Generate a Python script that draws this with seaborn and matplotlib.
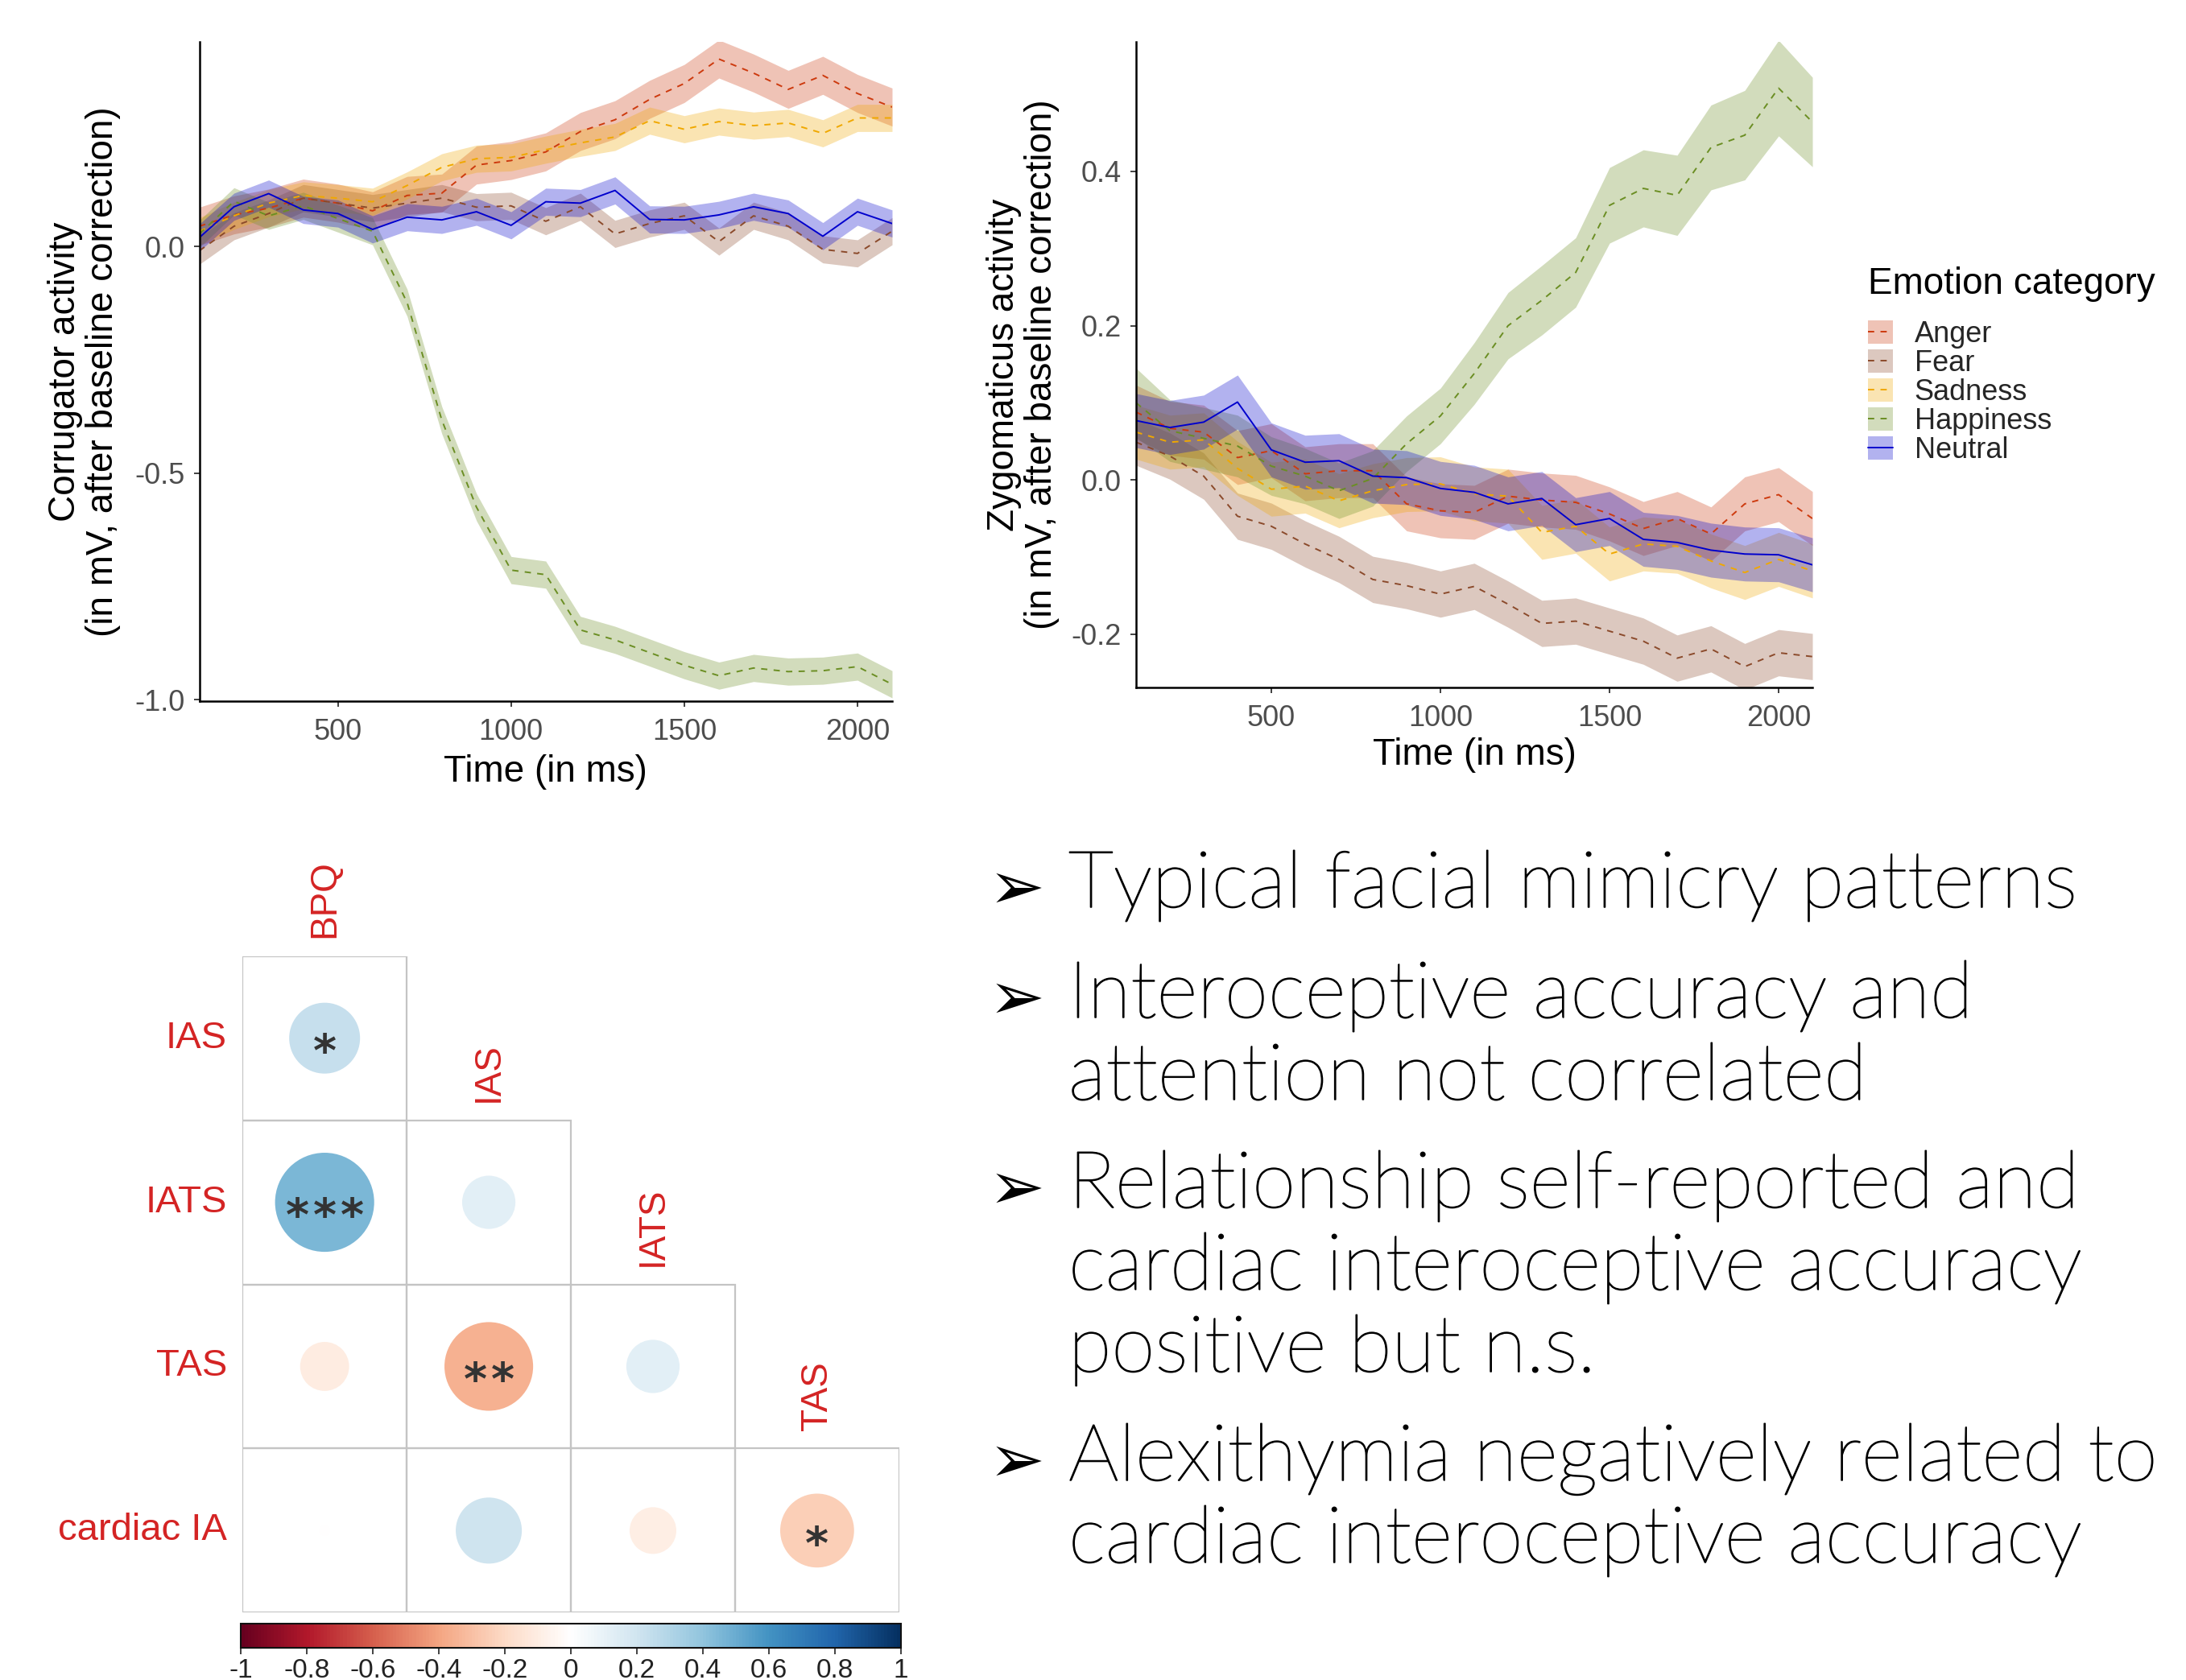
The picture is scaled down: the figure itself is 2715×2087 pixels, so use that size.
import numpy as np
import pandas as pd
import matplotlib
matplotlib.use("Agg")
import matplotlib.pyplot as plt
import matplotlib.patheffects as pe
import seaborn as sns
from matplotlib.patches import Patch, Circle, Rectangle
from matplotlib.lines import Line2D
from matplotlib.colors import LinearSegmentedColormap, ListedColormap, Normalize
import matplotlib.colorbar as mcolorbar

# ---------------------------------------------------------------- data
time_ms = [100, 200, 300, 400, 500, 600, 700, 800, 900, 1000, 1100,
           1200, 1300, 1400, 1500, 1600, 1700, 1800, 1900, 2000, 2100]
emotions = ["Anger", "Fear", "Sadness", "Happiness", "Neutral"]

# corrugator activity (mean, mV after baseline correction)
corr_anger = [0.045, 0.070, 0.085, 0.107, 0.096, 0.079, 0.113, 0.118, 0.180, 0.190, 0.209,
              0.254, 0.280, 0.325, 0.360, 0.414, 0.383, 0.347, 0.378, 0.338, 0.308]
corr_fear = [-0.009, 0.045, 0.073, 0.107, 0.096, 0.085, 0.096, 0.107, 0.087, 0.090, 0.056,
             0.088, 0.028, 0.051, 0.068, 0.011, 0.068, 0.045, -0.006, -0.015, 0.034]
corr_sadness = [0.034, 0.068, 0.096, 0.113, 0.107, 0.099, 0.135, 0.175, 0.194, 0.197, 0.214,
                0.229, 0.242, 0.278, 0.259, 0.276, 0.267, 0.273, 0.250, 0.284, 0.284]
corr_happiness = [0.028, 0.100, 0.068, 0.090, 0.062, 0.034, -0.124, -0.383, -0.575, -0.714, -0.724,
                  -0.846, -0.868, -0.896, -0.924, -0.947, -0.930, -0.938, -0.936, -0.927, -0.966]
corr_neutral = [0.020, 0.088, 0.117, 0.081, 0.073, 0.038, 0.065, 0.059, 0.077, 0.047, 0.099,
                0.096, 0.124, 0.060, 0.059, 0.070, 0.088, 0.073, 0.023, 0.077, 0.051]
corr_se = {"Anger": 0.042, "Fear": 0.030, "Sadness": 0.030, "Happiness": 0.030, "Neutral": 0.030}

# zygomaticus activity
zyg_anger = [0.088, 0.067, 0.062, 0.029, 0.038, 0.008, 0.012, 0.012, -0.031, -0.040, -0.042,
             -0.021, -0.026, -0.029, -0.044, -0.063, -0.050, -0.070, -0.031, -0.019, -0.050]
zyg_fear = [0.049, 0.031, 0.005, -0.047, -0.060, -0.083, -0.103, -0.129, -0.137, -0.148, -0.138,
            -0.161, -0.186, -0.183, -0.196, -0.209, -0.231, -0.219, -0.242, -0.224, -0.229]
zyg_sadness = [0.062, 0.049, 0.052, 0.015, -0.012, -0.008, -0.027, -0.014, -0.006, -0.005, -0.018,
               -0.021, -0.068, -0.060, -0.096, -0.083, -0.086, -0.105, -0.120, -0.103, -0.118]
zyg_happiness = [0.100, 0.064, 0.054, 0.044, 0.018, 0.005, -0.014, 0.002, 0.047, 0.083, 0.138,
                 0.200, 0.233, 0.269, 0.356, 0.378, 0.369, 0.431, 0.447, 0.508, 0.464]
zyg_neutral = [0.077, 0.068, 0.075, 0.101, 0.039, 0.023, 0.025, 0.005, 0.003, -0.011, -0.016,
               -0.031, -0.024, -0.058, -0.050, -0.077, -0.081, -0.091, -0.096, -0.097, -0.110]
zyg_se_happiness = [0.045, 0.040, 0.040, 0.040, 0.038, 0.036, 0.036, 0.036, 0.036, 0.036, 0.040,
                    0.043, 0.045, 0.045, 0.049, 0.050, 0.052, 0.055, 0.058, 0.062, 0.058]
zyg_se = {"Anger": 0.035, "Fear": 0.030, "Sadness": 0.035, "Happiness": zyg_se_happiness,
          "Neutral": 0.035}

# questionnaire correlations (lower triangle)
row_vars = ["IAS", "IATS", "TAS", "cardiac IA"]
col_vars = ["BPQ", "IAS", "IATS", "TAS"]
corr_r = [[0.23, np.nan, np.nan, np.nan],
          [0.45, 0.13, np.nan, np.nan],
          [-0.11, -0.36, 0.13, np.nan],
          [-0.005, 0.20, -0.10, -0.25]]
corr_stars = [[1, 0, 0, 0],
              [3, 0, 0, 0],
              [0, 2, 0, 0],
              [0, 0, 0, 1]]
cbar_ticks = [-1, -0.8, -0.6, -0.4, -0.2, 0, 0.2, 0.4, 0.6, 0.8, 1]

bullets = [
    ["Typical facial mimicry patterns"],
    ["Interoceptive accuracy and", "attention not correlated"],
    ["Relationship self-reported and", "cardiac interoceptive accuracy", "positive but n.s."],
    ["Alexithymia negatively related to", "cardiac interoceptive accuracy"],
]

# ---------------------------------------------------------------- style
line_colors = {"Anger": "#CD3A0E", "Fear": "#8B4A2B", "Sadness": "#F0A800",
               "Happiness": "#6B8E23", "Neutral": "#0000CD"}
dash_map = {"Anger": (4, 4), "Fear": (4, 4), "Sadness": (4, 4), "Happiness": (4, 4), "Neutral": ""}

sns.set_theme(style="white")
plt.rcParams["font.family"] = ["Liberation Sans", "DejaVu Sans"]
plt.rcParams["axes.unicode_minus"] = False

W, H = 2715, 2087
fig = plt.figure(figsize=(W / 100, H / 100), dpi=100)
fig.patch.set_facecolor("white")


def band_frame(means, se):
    rows = []
    for emo in emotions:
        s = se[emo]
        s = s if isinstance(s, list) else [s] * len(time_ms)
        for t, m, e in zip(time_ms, means[emo], s):
            rows.append((t, emo, m - e))
            rows.append((t, emo, m + e))
    return pd.DataFrame(rows, columns=["time", "emotion", "value"])


def draw_panel(ax, df, ylim, yticks, ylabel, xlab_y):
    sns.lineplot(data=df, x="time", y="value", hue="emotion", style="emotion",
                 hue_order=emotions, style_order=emotions, palette=line_colors,
                 dashes=dash_map, estimator="mean", errorbar=("pi", 100),
                 err_kws={"alpha": 0.3, "linewidth": 0}, linewidth=1.4,
                 legend=False, ax=ax)
    ax.set_xlim(100, 2100)
    ax.set_ylim(*ylim)
    ax.set_xticks([500, 1000, 1500, 2000])
    ax.set_yticks(yticks)
    ax.set_yticklabels([f"{v:.1f}" for v in yticks])
    sns.despine(ax=ax)
    for side in ("left", "bottom"):
        ax.spines[side].set_linewidth(1.8)
        ax.spines[side].set_color("black")
    ax.tick_params(axis="both", which="major", labelsize=26, labelcolor="#4D4D4D",
                   length=5, width=1.3, color="#333333", bottom=True, left=True)
    ax.tick_params(axis="x", pad=10)
    ax.tick_params(axis="y", pad=8)
    ax.set_xlabel("Time (in ms)", fontsize=33, color="black")
    ax.set_ylabel(ylabel, fontsize=33, color="black", linespacing=1.1)
    ax.yaxis.set_label_coords(-0.113, 0.5)
    ax.xaxis.set_label_coords(0.5, xlab_y)
    ax.set_facecolor("white")


corr_means = {"Anger": corr_anger, "Fear": corr_fear, "Sadness": corr_sadness,
              "Happiness": corr_happiness, "Neutral": corr_neutral}
zyg_means = {"Anger": zyg_anger, "Fear": zyg_fear, "Sadness": zyg_sadness,
             "Happiness": zyg_happiness, "Neutral": zyg_neutral}

ax1 = fig.add_axes([0.0912, 0.5827, 0.3169, 0.3924])
draw_panel(ax1, band_frame(corr_means, corr_se), (-1.003, 0.452), [-1.0, -0.5, 0.0],
           "Corrugator activity\n(in mV, after baseline correction)", -0.0806)

ax2 = fig.add_axes([0.5197, 0.5908, 0.3094, 0.3843])
draw_panel(ax2, band_frame(zyg_means, zyg_se), (-0.269, 0.568), [-0.2, 0.0, 0.2, 0.4],
           "Zygomaticus activity\n(in mV, after baseline correction)", -0.0773)

# legend: translucent band key with the line drawn over it
handles = []
for emo in emotions:
    c = line_colors[emo]
    ls = "-" if emo == "Neutral" else (0, (4, 4))
    handles.append((Patch(facecolor=c, alpha=0.3, edgecolor="none"),
                    Line2D([], [], color=c, linestyle=ls, linewidth=1.4)))
fig.text(2320 / W, 1 - 353 / H, "Emotion category", fontsize=33, va="center", ha="left",
         color="black")
fig.legend(handles, emotions, loc="upper left", bbox_to_anchor=(2320 / W, 1 - 398 / H),
           frameon=False, fontsize=26, handlelength=0.85, handleheight=0.85,
           labelspacing=0.03, handletextpad=0.75, borderpad=0, borderaxespad=0)

# ---------------------------------------------------------------- correlation matrix
col2 = ["#67001F", "#B2182B", "#D6604D", "#F4A582", "#FDDBC7", "#FFFFFF",
        "#D1E5F0", "#92C5DE", "#4393C3", "#2166AC", "#053061"]
rdbu = LinearSegmentedColormap.from_list("corr_rdbu", col2, N=200)
norm = Normalize(-1, 1)
label_red = "#D42424"

rmat = np.array(corr_r, dtype=float)
mask = np.isnan(rmat)
axc = fig.add_axes([0.1103, 0.0401, 0.3017, 0.3908])
sns.heatmap(np.zeros_like(rmat), mask=mask, cmap=ListedColormap(["white"]), cbar=False,
            linewidths=0, square=True, ax=axc, xticklabels=False, yticklabels=row_vars)
axc.tick_params(axis="y", length=0, pad=14, labelsize=34, labelcolor=label_red, rotation=0)
axc.set_xticks([])

star_pitch = 0.167
for i in range(len(row_vars)):
    for j in range(len(col_vars)):
        r = rmat[i, j]
        if np.isnan(r):
            continue
        axc.add_patch(Rectangle((j, i), 1, 1, facecolor="none", edgecolor="#C4C4C4",
                                linewidth=1.6, zorder=2))
        axc.add_patch(Circle((j + 0.5, i + 0.5), radius=0.45 * np.sqrt(abs(r)),
                             facecolor=rdbu(norm(r)), edgecolor="none", zorder=3))
        n = corr_stars[i][j]
        for k in range(n):
            xs = j + 0.5 + (k - (n - 1) / 2) * star_pitch
            axc.text(xs, i + 0.5 + 0.17, "*", ha="center", va="baseline",
                     fontsize=40, fontweight="bold", color="#333333",
                     family="DejaVu Sans", zorder=4)
for j, name in enumerate(col_vars):
    axc.text(j + 0.5, j - 0.11, name, rotation=90, ha="center", va="bottom",
             fontsize=33, color=label_red)

cax = fig.add_axes([0.1103, 1 - 2047 / H, 0.3017, 30 / H])
cb = mcolorbar.ColorbarBase(cax, cmap=rdbu, norm=norm, orientation="horizontal",
                            ticks=cbar_ticks)
cb.ax.set_xticklabels([f"{t:g}" for t in cbar_ticks])
cb.outline.set_linewidth(1.5)
cb.outline.set_edgecolor("#111111")
cax.tick_params(axis="x", labelsize=24, length=6, width=1.2, pad=3, labelcolor="#222222",
                color="#222222")

# ---------------------------------------------------------------- bullet text
text_font = ["Lato", "DejaVu Sans"]
text_fx = [pe.withStroke(linewidth=1.1, foreground="black")]
baselines = [[1127], [1264, 1366], [1500, 1602, 1704], [1839, 1941]]
text_left = 1327
target = {"Typical facial mimicry patterns": 1249, "Alexithymia negatively related to": 1357}

renderer = fig.canvas.get_renderer()
scales = []
for s, wpx in target.items():
    probe = fig.text(0, 0, s, fontsize=60, family=text_font, weight="light")
    scales.append(wpx / probe.get_window_extent(renderer).width)
    probe.remove()
text_size = 60 * float(np.mean(scales))

for para, ys in zip(bullets, baselines):
    fig.text(1228 / W, 1 - (ys[0] + 2) / H, "\u27a2", fontsize=60, family="DejaVu Sans",
             va="baseline", ha="left", color="black")
    for line, y in zip(para, ys):
        fig.text(text_left / W, 1 - y / H, line, fontsize=text_size, family=text_font,
                 weight="light", va="baseline", ha="left", color="black",
                 path_effects=text_fx)

fig.savefig("out.png", dpi=100, facecolor="white")
